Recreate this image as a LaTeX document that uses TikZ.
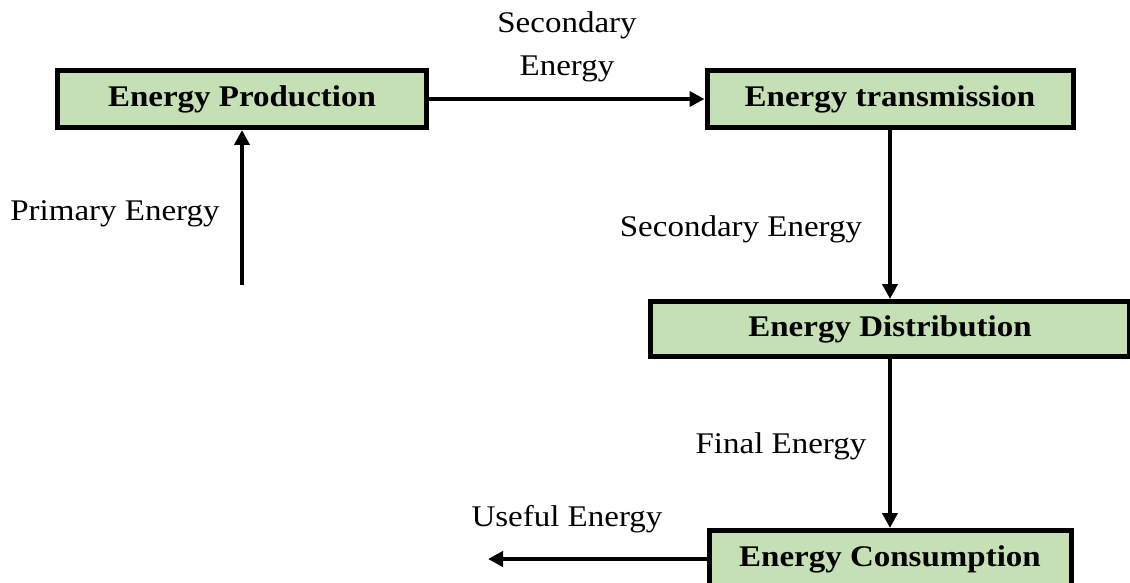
\documentclass[tikz,border=0pt]{standalone}
\usepackage{fontspec}
\setmainfont{Liberation Serif}[FakeStretch=1.1]
\usetikzlibrary{arrows.meta}
\definecolor{boxgreen}{HTML}{C5E0B4}

\begin{document}
\begin{tikzpicture}[
  x=1pt, y=-1pt,
  font=\fontsize{30}{43}\selectfont,
  box/.style={draw, line width=5pt, fill=boxgreen, inner sep=0pt, font=\fontsize{30}{34}\selectfont\bfseries},
  arrow/.style={-{Triangle[length=15pt, width=15pt]}, line width=4pt},
  lbl/.style={align=center, inner sep=0pt}
]
  \useasboundingbox (0,0) rectangle (1130,583);
  \clip (0,0) rectangle (1130,583);

  \node[box, minimum width=369pt, minimum height=57pt] (prod) at (242,99) {Energy Production};
  \node[box, minimum width=366pt, minimum height=57pt] (trans) at (890,99) {Energy transmission};
  \node[box, minimum width=479pt, minimum height=55pt] (dist) at (890,329) {Energy Distribution};
  \node[box, minimum width=362pt, minimum height=57pt] (cons) at (890,559) {Energy Consumption};

  \coordinate (src) at (242,285);
  \coordinate (sink) at (488,559);

  \draw[arrow] (src) -- (prod);
  \draw[arrow] (prod) -- (trans);
  \draw[arrow] (trans) -- (dist);
  \draw[arrow] (dist) -- (cons);
  \draw[arrow] (cons) -- (sink);

  \node[lbl] (primary_label) at (115,214) {Primary Energy};
  \node[lbl] (secondary_top_label) at (567,47) {Secondary\\Energy};
  \node[lbl] (secondary_label) at (741,229) {Secondary Energy};
  \node[lbl] (final_label) at (781,446) {Final Energy};
  \node[lbl] (useful_label) at (567,519) {Useful Energy};
\end{tikzpicture}
\end{document}
